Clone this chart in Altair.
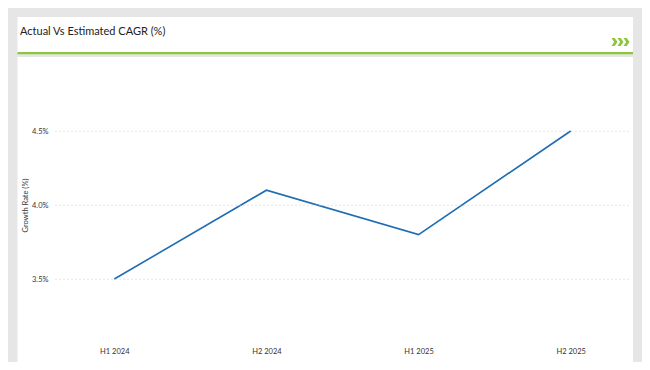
import altair as alt
import pandas as pd

periods = ["H1 2024", "H2 2024", "H1 2025", "H2 2025"]
growth = [3.5, 4.1, 3.8, 4.5]
y_ticks = [3.5, 4.0, 4.5]

title_text = "Actual Vs Estimated CAGR (%)"
y_title = "Growth Rate (%)"

df = pd.DataFrame({"period": periods, "growth": growth})
dummy = pd.DataFrame({"a": [0]})

W, H = 575, 266.4
FONT = "Lato"

header = alt.Chart(dummy).mark_rect(color="white").encode(
    x=alt.value(-37.5), x2=alt.value(578), y=alt.value(-54.8), y2=alt.value(-19.8)
)
green = alt.Chart(dummy).mark_rect(color="#8cc63f").encode(
    x=alt.value(-37.5), x2=alt.value(578), y=alt.value(-19.8), y2=alt.value(-17.6)
)
panel = alt.Chart(dummy).mark_rect(color="white").encode(
    x=alt.value(-37.5), x2=alt.value(578), y=alt.value(-14.8), y2=alt.value(290.2)
)
title = alt.Chart(dummy).mark_text(
    text=title_text, align="left", baseline="middle", fontSize=11, font=FONT, color="#222222"
).encode(x=alt.value(-35), y=alt.value(-39.8))

chev = pd.DataFrame({"px": [559.5, 565.5, 571.5], "py": [-29.8, -29.8, -29.8]})
chevrons = alt.Chart(chev).mark_point(
    shape="M-0.75,-1 L0.05,-1 L0.75,0 L0.05,1 L-0.75,1 L-0.1,0 Z",
    filled=True, color="#8cc63f", opacity=1, size=64, strokeWidth=0
).encode(x=alt.X("px:Q", scale=None), y=alt.Y("py:Q", scale=None))

line = alt.Chart(df).mark_line(color="#1f6db2", strokeWidth=1.6).encode(
    x=alt.X(
        "period:N", sort=periods,
        scale=alt.Scale(type="point", padding=0.39),
        axis=alt.Axis(title=None, labelAngle=0, ticks=False, domain=False, grid=False,
                      labelPadding=9, labelFontSize=7.5, labelColor="#333333", labelFont=FONT,
                      zindex=1),
    ),
    y=alt.Y(
        "growth:Q",
        scale=alt.Scale(domain=[3.1, 4.9], nice=False, zero=False),
        axis=alt.Axis(
            title=y_title, values=y_ticks,
            labelExpr="format(datum.value, '.1f') + '%'",
            ticks=False, domain=False, grid=True,
            gridDash=[1, 3], gridColor="#cccccc", gridWidth=1,
            labelPadding=7, labelFontSize=7.5, labelColor="#333333", labelFont=FONT,
            titleFontSize=7.5, titleFont=FONT, titleColor="#333333", titleFontWeight="normal",
            titleX=-29.5, titleY=133.2, titleAngle=-90, titleAlign="center", titleBaseline="middle",
            zindex=1,
        ),
    ),
)

chart = alt.layer(header, green, panel, title, chevrons, line).properties(
    width=W, height=H,
    autosize=alt.AutoSizeParams(type="none"),
    padding={"left": 47, "top": 63.8, "right": 12, "bottom": 23.8},
).configure(background="#e6e6e6").configure_view(stroke=None)

chart.save("out.html", embed_options={"renderer": "svg", "actions": False})
